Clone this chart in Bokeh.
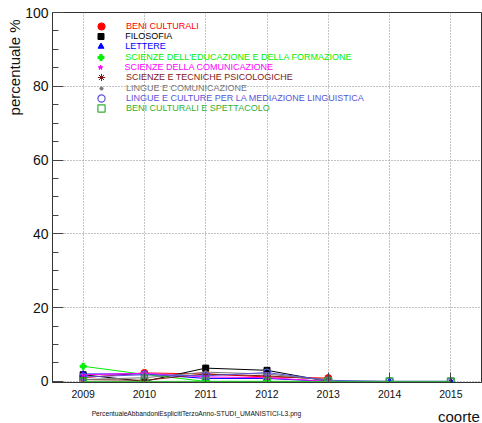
import math
from bokeh.plotting import figure
from bokeh.layouts import column
from bokeh.models import FixedTicker, Legend, LegendItem, Range1d, Title
from bokeh.core.properties import value
from bokeh.embed import file_html
from bokeh.resources import INLINE

nan = float("nan")

# ---- data -------------------------------------------------------------
years = [2009, 2010, 2011, 2012, 2013, 2014, 2015]
names = [
    "BENI CULTURALI",
    "FILOSOFIA",
    "LETTERE",
    "SCIENZE DELL'EDUCAZIONE E DELLA FORMAZIONE",
    "SCIENZE DELLA COMUNICAZIONE",
    "SCIENZE E TECNICHE PSICOLOGICHE",
    "LINGUE E COMUNICAZIONE",
    "LINGUE E CULTURE PER LA MEDIAZIONE LINGUISTICA",
    "BENI CULTURALI E SPETTACOLO",
]
beni_culturali = [1.0, 2.3, 2.0, 1.2, 0.9, nan, nan]
filosofia = [1.8, 0.0, 3.6, 3.0, 0.0, nan, nan]
lettere = [2.0, 2.0, 0.8, 0.8, 0.0, 0.0, 0.0]
scienze_educazione = [4.1, 1.9, 0.0, 0.0, 0.0, nan, nan]
scienze_comunicazione = [1.8, 2.2, 1.2, 1.0, 0.0, nan, nan]
scienze_psicologiche = [0.5, 0.3, 2.0, 1.5, 0.5, nan, nan]
lingue_comunicazione = [0.5, 1.0, 2.5, 2.0, 0.3, nan, nan]
lingue_mediazione = [1.2, 1.8, 1.5, 2.4, 0.3, 0.0, 0.0]
beni_spettacolo = [0.0, 0.0, 0.0, 0.0, 0.0, 0.0, 0.0]
series = [beni_culturali, filosofia, lettere, scienze_educazione,
          scienze_comunicazione, scienze_psicologiche, lingue_comunicazione,
          lingue_mediazione, beni_spettacolo]
y_ticks = [0, 20, 40, 60, 80, 100]
y_minor = list(range(0, 101, 5))
y_title = "percentuale %"
x_title = "coorte"
file_name = "PercentualeAbbandoniEsplicitiTerzoAnno-STUDI_UMANISTICI-L3.png"

# ---- styles -----------------------------------------------------------
colors = ["#ff0000", "#000000", "#0000ff", "#00ee00", "#ff00ff",
          "#801818", "#777777", "#5954d9", "#33b033"]
markers = ["circle", "square", "triangle", "plus", "star",
           "asterisk", "circle", "circle", "square"]
sizes = [7, 6, 6, 6, 5, 7, 3, 7, 7]
filled = [True, True, True, True, True, True, True, False, False]

FONT = "Liberation Sans"

p = figure(width=482, height=402, output_backend="svg", toolbar_location=None,
           x_range=Range1d(2008.5, 2015.5), y_range=Range1d(-0.3, 100),
           min_border_left=52, min_border_right=1, min_border_top=12,
           min_border_bottom=20)
p.outline_line_color = "#333333"
p.background_fill_color = "white"
p.border_fill_color = "white"

p.xaxis.ticker = FixedTicker(ticks=years)
p.xaxis.major_tick_in = 10
p.xaxis.major_tick_out = 0
p.xaxis.minor_tick_in = 0
p.xaxis.minor_tick_out = 0
p.xaxis.major_label_text_font = FONT
p.xaxis.major_label_text_font_size = "10.5px"
p.xaxis.major_label_text_color = "#111111"
p.xaxis.major_label_standoff = 7

p.yaxis.ticker = FixedTicker(ticks=y_ticks, minor_ticks=y_minor)
p.yaxis.major_tick_in = 11
p.yaxis.major_tick_out = 0
p.yaxis.minor_tick_in = 6
p.yaxis.minor_tick_out = 0
p.yaxis.major_label_text_font = FONT
p.yaxis.major_label_text_font_size = "14px"
p.yaxis.major_label_text_color = "#111111"
p.yaxis.major_label_standoff = 4

for ax in (p.xaxis, p.yaxis):
    ax.axis_line_color = "#333333"
    ax.major_tick_line_color = "#444444"
    ax.minor_tick_line_color = "#444444"

for g in (p.xgrid, p.ygrid):
    g.grid_line_color = "#888888"
    g.grid_line_dash = "1 2"
    g.grid_line_width = 1

scatter_renderers = []
for vals, c, m, s, f in zip(series, colors, markers, sizes, filled):
    p.line(years, vals, line_color=c, line_width=1)
    r = p.scatter(years, vals, marker=m, size=s, line_color=c,
                  fill_color=c if f else None, line_width=1.2 if not f else 1)
    scatter_renderers.append(r)

# ---- legend: one small legend per entry so each label keeps its colour ----
H = 18
for i, (name, r, c, s) in enumerate(zip(names, scatter_renderers, colors, sizes)):
    w = s / 0.4
    row_center_from_bottom = 370 - (13.7 + 10.33 * i)
    lx = 48.7 - w / 2
    standoff = int(round(73 - 48.7 - w / 2))
    leg = Legend(items=[LegendItem(label=name, renderers=[r])],
                 location=(lx, row_center_from_bottom - H / 2),
                 padding=0, margin=0, spacing=0,
                 glyph_width=int(round(w)), glyph_height=H, label_height=H,
                 label_standoff=standoff,
                 label_text_font=FONT, label_text_font_size="9px",
                 label_text_color=c,
                 border_line_alpha=0, background_fill_alpha=0)
    p.add_layout(leg)

# y axis title, at the top end of the axis
p.add_layout(Title(text=y_title, align="right", text_font=FONT,
                   text_font_size="15px", text_font_style="normal",
                   text_color="#111111", standoff=0, offset=7), "left")

# ---- bottom strip with the x title and the file name --------------------
strip = figure(width=482, height=21, output_backend="svg", toolbar_location=None,
               x_range=Range1d(0, 482), y_range=Range1d(423, 402),
               x_axis_type=None, y_axis_type=None,
               min_border_left=0, min_border_right=0, min_border_top=0,
               min_border_bottom=0)
strip.outline_line_color = None
strip.grid.visible = False
strip.background_fill_color = "white"
strip.border_fill_color = "white"
strip.text(x=[480], y=[415.5], text=[x_title], text_align="right",
           text_baseline="alphabetic", text_font=value(FONT),
           text_font_size="15px", text_color="#111111")
strip.text(x=[44], y=[413], text=[file_name], text_align="left",
           text_baseline="alphabetic", text_font=value(FONT),
           text_font_size="6.7px", text_color="#111111")

layout = column(p, strip, spacing=0)
open("out.html", "w").write(file_html(layout, INLINE))
